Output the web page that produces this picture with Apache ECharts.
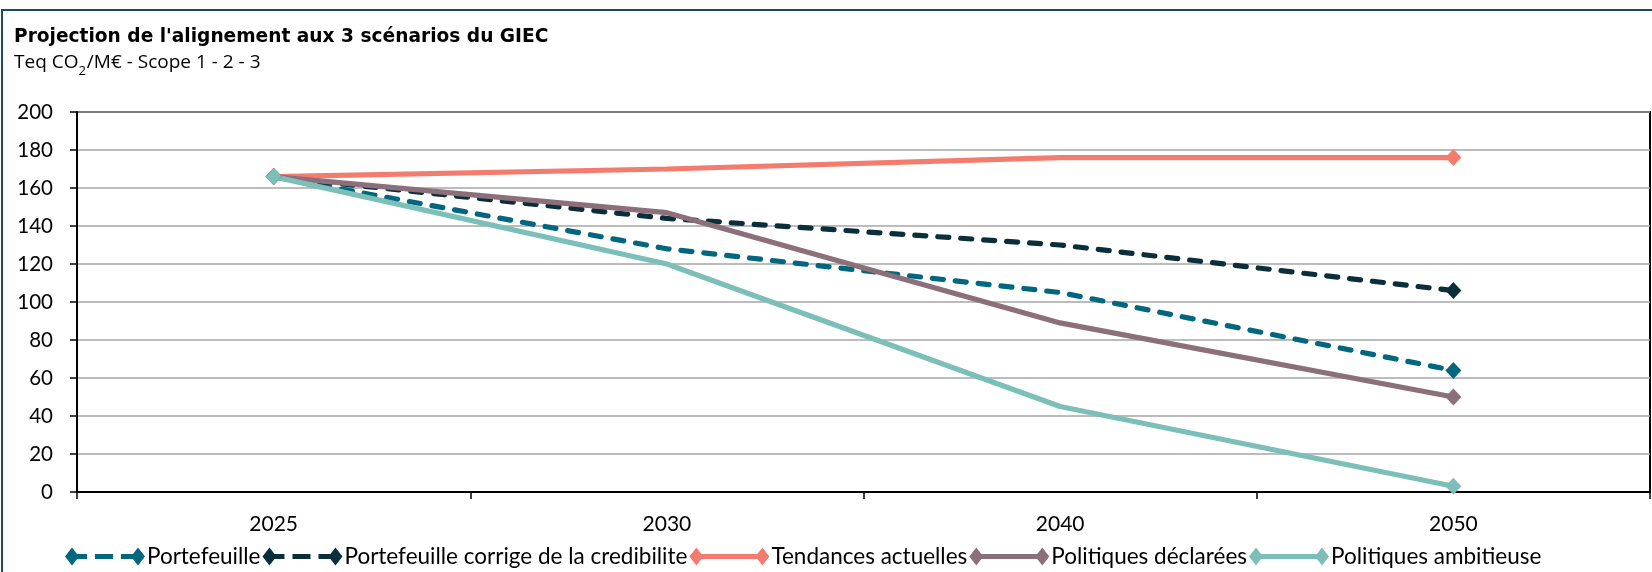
<!DOCTYPE html>
<html>
<head>
<meta charset="utf-8">
<script src="https://cdn.jsdelivr.net/npm/echarts@6/dist/echarts.min.js"></script>
<style>
  html, body { margin: 0; padding: 0; background: #fff; }
  #chart { width: 1652px; height: 572px; }
</style>
</head>
<body>
<div id="chart"></div>
<script>
const categories = ['2025', '2030', '2040', '2050'];
const yTicks = { min: 0, max: 200, interval: 20 };
const seriesNames = [
  'Portefeuille',
  'Portefeuille corrige de la credibilite',
  'Tendances actuelles',
  'Politiques déclarées',
  'Politiques ambitieuse'
];
const portefeuille = [166, 128, 105, 64];
const corrige = [166, 144, 130, 106];
const tendances = [166, 170, 176, 176];
const declarees = [166, 147, 89, 50];
const ambitieuse = [166, 120, 45, 3];

const colors = ['#00677F', '#0B2E3B', '#F47C6E', '#8B6F7A', '#7BBFB8'];
const FONT = 'Lato, "Noto Sans", sans-serif';
const TITLE_FONT = '"DejaVu Sans", "Open Sans", sans-serif';
const SUB_FONT = '"Open Sans", "Noto Sans", sans-serif';

const solidIcon = 'path://M0,9L7,0L14,9L7,18Z M7,6.5L73,6.5L73,11.5L7,11.5Z M66,9L73,0L80,9L73,18Z';
const dashedIcon = 'path://M0,9L7,0L14,9L7,18Z M7,6.5L22,6.5L22,11.5L7,11.5Z M30,6.5L48,6.5L48,11.5L30,11.5Z M56,6.5L73,6.5L73,11.5L56,11.5Z M66,9L73,0L80,9L73,18Z';

function endSymbol(value, params) {
  return (params.dataIndex === 0 || params.dataIndex === categories.length - 1) ? 'diamond' : 'none';
}

function makeSeries(name, data, color, dashed) {
  return {
    name: name,
    type: 'line',
    data: data,
    symbol: endSymbol,
    symbolSize: [16, 17],
    showSymbol: true,
    showAllSymbol: true,
    itemStyle: { color: color, borderWidth: 0 },
    lineStyle: dashed
      ? { color: color, width: 5.2, type: [11, 12], cap: 'round' }
      : { color: color, width: 5.2 },
    emphasis: { disabled: true },
    animation: false
  };
}

const chart = echarts.init(document.getElementById('chart'), null, { renderer: 'canvas' });
chart.setOption({
  animation: false,
  graphic: [{
    type: 'rect',
    shape: { x: 2, y: 10, width: 1800, height: 800 },
    style: { fill: 'none', stroke: '#1B4B5A', lineWidth: 2 },
    silent: true,
    z: 0
  }],
  title: [{
    text: "Projection de l'alignement aux 3 scénarios du GIEC",
    left: 9, top: 23,
    textStyle: { fontFamily: TITLE_FONT, fontSize: 18.6, fontWeight: 'bold', color: '#000' }
  }, {
    text: '{a|Teq CO}{s|2}{a|/M€ - Scope 1 - 2 - 3}',
    left: 9, top: 48,
    textStyle: {
      fontFamily: SUB_FONT, fontSize: 19, fontWeight: 'normal', color: '#000',
      rich: {
        a: { fontFamily: SUB_FONT, fontSize: 19, fontWeight: 'normal', color: '#000' },
        s: { fontFamily: SUB_FONT, fontSize: 13, fontWeight: 'normal', color: '#000', verticalAlign: 'bottom', padding: [0, 1, -6, 0] }
      }
    }
  }],
  legend: {
    left: 60, top: 540,
    itemWidth: 80, itemHeight: 18,
    itemGap: 2,
    itemStyle: { borderWidth: 0 },
    textStyle: { fontFamily: FONT, fontSize: 22.5, color: '#000', padding: [0, 0, 0, -3] },
    data: seriesNames.map((n, i) => ({ name: n, icon: i < 2 ? dashedIcon : solidIcon })),
    selectedMode: false
  },
  grid: {
    left: 77, right: 2, top: 112, bottom: 80,
    show: true, borderColor: '#000', borderWidth: 2, backgroundColor: 'transparent'
  },
  xAxis: {
    type: 'category',
    data: categories,
    boundaryGap: true,
    axisLine: { lineStyle: { color: '#000', width: 2 } },
    axisTick: { show: true, length: 7, lineStyle: { color: '#000', width: 1.5 } },
    axisLabel: { fontFamily: FONT, fontSize: 21, color: '#000', margin: 22 },
    splitLine: { show: false }
  },
  yAxis: {
    type: 'value',
    min: yTicks.min, max: yTicks.max, interval: yTicks.interval,
    axisLine: { show: true, lineStyle: { color: '#000', width: 2 } },
    axisTick: { show: true, length: 7, lineStyle: { color: '#000', width: 1.5 } },
    axisLabel: { fontFamily: FONT, fontSize: 20.5, color: '#000', margin: 24 },
    splitLine: { show: true, lineStyle: { color: '#A6A6A6', width: 1.5 } }
  },
  series: [
    makeSeries(seriesNames[0], portefeuille, colors[0], true),
    makeSeries(seriesNames[1], corrige, colors[1], true),
    makeSeries(seriesNames[2], tendances, colors[2], false),
    makeSeries(seriesNames[3], declarees, colors[3], false),
    makeSeries(seriesNames[4], ambitieuse, colors[4], false)
  ]
});
</script>
</body>
</html>
